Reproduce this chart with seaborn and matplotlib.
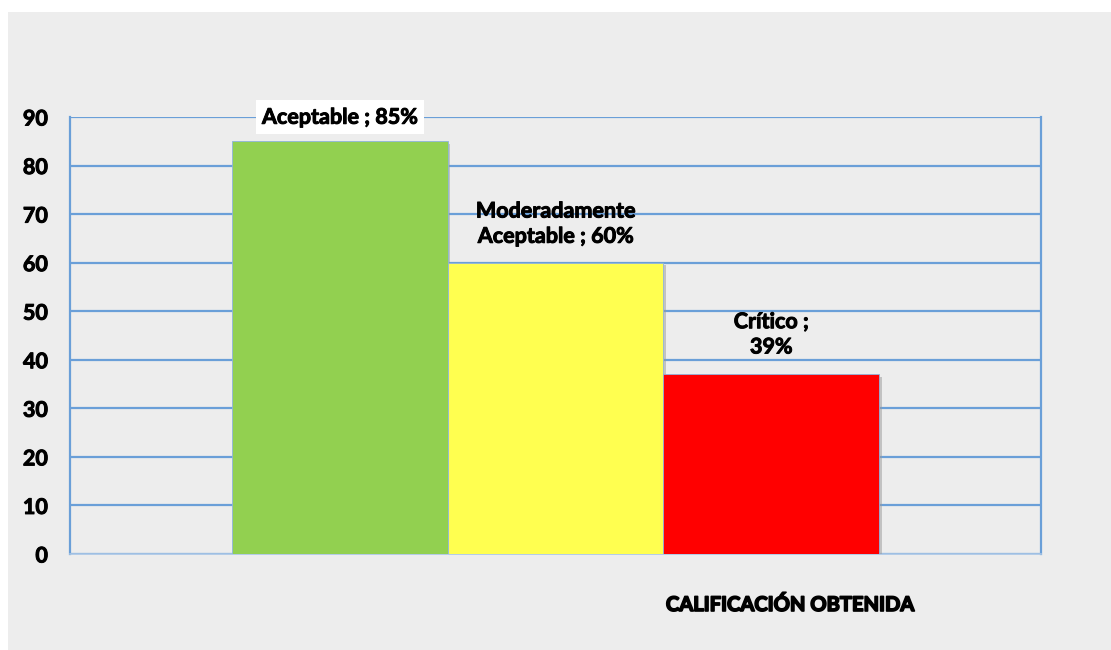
import matplotlib
matplotlib.use("Agg")
import matplotlib.pyplot as plt
import matplotlib.patheffects as pe
from matplotlib.patches import Rectangle
import seaborn as sns

# datos del grafico
categorias = ["Aceptable", "Moderadamente\nAceptable", "Crítico"]
valores = [85, 60, 37]
etiquetas = ["Aceptable ; 85%", "Moderadamente\nAceptable ; 60%", "Crítico ;\n39%"]
colores = ["#92d050", "#ffff50", "#ff0000"]
yticks = [0, 10, 20, 30, 40, 50, 60, 70, 80, 90]

sns.set_style("white")
plt.rcParams["font.family"] = ["Lato", "DejaVu Sans"]
plt.rcParams["text.color"] = "black"
plt.rcParams["ytick.color"] = "black"

grueso = [pe.withStroke(linewidth=0.7, foreground="black")]

fig = plt.figure(figsize=(11.11, 6.5), dpi=100, facecolor="white")
# fondo gris del area del grafico
fig.patches.append(Rectangle((8 / 1111, 0), 1, 1 - 12 / 650, transform=fig.transFigure,
                             facecolor="#ededed", edgecolor="none", zorder=-10))

ax = fig.add_axes([70 / 1111, 96 / 650, 971 / 1111, 437 / 650])
ax.set_facecolor("#ededed")

sns.barplot(x=categorias, y=valores, hue=categorias, palette=colores, width=1.0,
            saturation=1, legend=False, ax=ax, zorder=3)
for p in ax.patches:
    p.set_edgecolor("#8fb4dd")
    p.set_linewidth(0.6)
    p.set_path_effects([pe.SimplePatchShadow(offset=(2, -2), shadow_rgbFace="#999999", alpha=0.5),
                        pe.Normal()])

ax.set_xlim(-1.25, 3.25)
ax.set_ylim(0, 90)
ax.set_yticks(yticks)
ax.set_yticklabels([str(t) for t in yticks], fontsize=15.5, fontweight="bold", color="black")
for t in ax.get_yticklabels():
    t.set_path_effects(grueso)
ax.set_xticks([])
ax.tick_params(axis="y", length=0, pad=16)
ax.grid(axis="y", color="#6a9fd8", linewidth=1.6, zorder=1)
ax.set_axisbelow(True)

for side in ["left", "right"]:
    ax.spines[side].set_color("#6a9fd8")
    ax.spines[side].set_linewidth(1.6)
ax.spines["top"].set_visible(False)
ax.spines["bottom"].set_color("#a9c6e6")
ax.spines["bottom"].set_linewidth(1.2)

# etiquetas de datos
desfases = [24, 39, 40]
for i, (v, txt) in enumerate(zip(valores, etiquetas)):
    caja = dict(boxstyle="square,pad=0.3", facecolor="white", edgecolor="none") if i == 0 else None
    ax.annotate(txt, xy=(i, v), xytext=(0, desfases[i] * 0.72), textcoords="offset points",
                ha="center", va="center", fontsize=15.5, fontweight="bold", color="black",
                linespacing=1.25, bbox=caja, zorder=5, annotation_clip=False,
                path_effects=grueso)

fig.text(790 / 1111, 1 - 605 / 650, "CALIFICACIÓN OBTENIDA", ha="center", va="center",
         fontsize=14.5, fontweight="bold", color="black",
         path_effects=[pe.withStroke(linewidth=1.2, foreground="black")])

fig.savefig("out.png", dpi=100, facecolor=fig.get_facecolor())
